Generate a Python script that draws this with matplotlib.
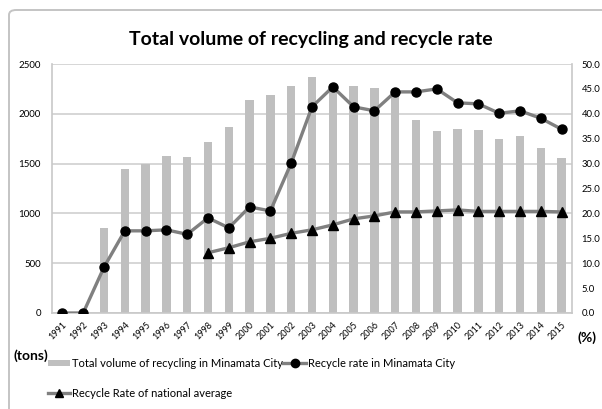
import matplotlib
matplotlib.use("Agg")
import matplotlib.pyplot as plt
from matplotlib.patches import FancyBboxPatch, Patch
from matplotlib.lines import Line2D
import numpy as np

plt.rcParams['font.family'] = ['Lato', 'DejaVu Sans']

years = [str(y) for y in range(1991, 2016)]
volume_tons = [0, 0, 850, 1450, 1500, 1580, 1570, 1720, 1870, 2140, 2190,
               2280, 2370, 2300, 2280, 2260, 2250, 1940, 1830, 1850, 1840,
               1750, 1780, 1660, 1560]
rate_minamata = [0.0, 0.0, 9.2, 16.5, 16.5, 16.7, 15.8, 19.1, 17.1, 21.3,
                 20.5, 30.1, 41.4, 45.4, 41.4, 40.6, 44.4, 44.4, 45.0, 42.2,
                 42.0, 40.1, 40.6, 39.1, 36.9]
national_years = [str(y) for y in range(1998, 2016)]
rate_national = [12.1, 13.1, 14.3, 15.0, 16.0, 16.7, 17.7, 18.9, 19.5, 20.3,
                 20.3, 20.5, 20.7, 20.4, 20.4, 20.4, 20.4, 20.3]

W, H = 602, 409
fig = plt.figure(figsize=(W / 100, H / 100), dpi=100)

# rounded chart frame
frame = FancyBboxPatch((9 / W, 1 - 430 / H), 620 / W, 420 / H,
                       boxstyle="round,pad=0,rounding_size=0.012",
                       transform=fig.transFigure, fill=False,
                       edgecolor="#c4c4c4", linewidth=1.4)
fig.patches.append(frame)

ax = fig.add_axes([52 / W, 1 - 313 / H, 520 / W, 249 / H])
x = np.arange(len(years))
bar_color = "#bfbfbf"
line_color = "#808080"
grid_color = "#d0d0d0"

ax.bar(x, volume_tons, width=0.4, color=bar_color, zorder=2)
ax.set_xlim(-0.5, len(years) - 0.5)
ax.set_ylim(0, 2500)
ax.set_yticks(np.arange(0, 2501, 500))
ax.yaxis.grid(True, color=grid_color, linewidth=1.2, zorder=0)
ax.set_axisbelow(True)
ax.set_xticks(x)
ax.set_xticklabels(years, rotation=45, ha="right", rotation_mode="anchor",
                   fontsize=6.5)
ax.tick_params(axis="x", length=0, pad=5)
ax.tick_params(axis="y", length=0, pad=8, labelsize=7)
for side in ["left", "right", "bottom"]:
    ax.spines[side].set_color("#c8c8c8")
    ax.spines[side].set_linewidth(1.2)
ax.spines["top"].set_visible(False)

ax2 = ax.twinx()
ax2.set_ylim(0, 50)
ax2.set_yticks(np.arange(0, 50.1, 5))
ax2.set_yticklabels([f"{v:.1f}" for v in np.arange(0, 50.1, 5)])
ax2.tick_params(axis="y", length=0, pad=7, labelsize=6.8)
for s in ax2.spines.values():
    s.set_visible(False)

ax2.plot(x, rate_minamata, color=line_color, linewidth=2.4, marker="o",
         markersize=6.5, markerfacecolor="black", markeredgecolor="black",
         zorder=3)
nx = [years.index(y) for y in national_years]
ax2.plot(nx, rate_national, color=line_color, linewidth=2.4, marker="^",
         markersize=6.5, markerfacecolor="black", markeredgecolor="black",
         zorder=3)

fig.text(311 / W, 1 - 40 / H, "Total volume of recycling and recycle rate",
         ha="center", va="center", fontsize=14, fontweight="bold")
fig.text(13 / W, 1 - 356 / H, "(tons)", ha="left", va="center",
         fontsize=10, fontweight="bold")
fig.text(577 / W, 1 - 338 / H, "(%)", ha="left", va="center",
         fontsize=10, fontweight="bold")

h_bar = Patch(facecolor=bar_color, edgecolor="none")
h_min = Line2D([], [], color=line_color, linewidth=2.4, marker="o",
               markersize=6, markerfacecolor="black", markeredgecolor="black")
h_nat = Line2D([], [], color=line_color, linewidth=2.4, marker="^",
               markersize=6, markerfacecolor="black", markeredgecolor="black")
fig.legend([h_bar, h_nat, h_min],
           ["Total volume of recycling in Minamata City",
            "Recycle Rate of national average",
            "Recycle rate in Minamata City"],
           ncol=2, loc="upper left", bbox_to_anchor=(48 / W, 1 - 358 / H),
           frameon=False, fontsize=8, handlelength=2.0, handleheight=0.5,
           handletextpad=0.2, columnspacing=0.0, labelspacing=1.7,
           borderpad=0, borderaxespad=0)

fig.savefig("out.png", dpi=100)
